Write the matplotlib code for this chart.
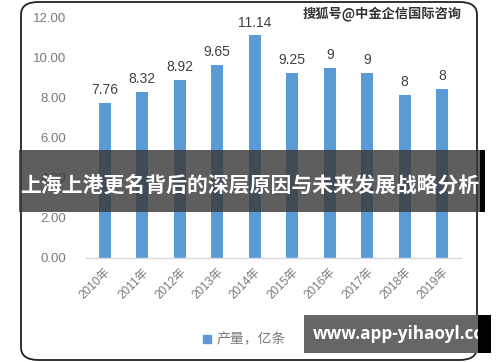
import matplotlib
matplotlib.use("Agg")
import matplotlib.pyplot as plt
from matplotlib.patches import FancyBboxPatch, Rectangle

plt.rcParams['font.family'] = ['Liberation Sans', 'Noto Sans CJK SC', 'DejaVu Sans']

years = ["2010年", "2011年", "2012年", "2013年", "2014年", "2015年", "2016年", "2017年", "2018年", "2019年"]
heights = [7.76, 8.32, 8.92, 9.65, 11.14, 9.25, 9.5, 9.25, 8.15, 8.45]
labels = ["7.76", "8.32", "8.92", "9.65", "11.14", "9.25", "9", "9", "8", "8"]
yticks = [0, 2, 4, 6, 8, 10, 12]
legend_label = "产量，亿条"
banner = "上海上港更名背后的深层原因与未来发展战略分析"
watermark = "搜狐号@中金企信国际咨询"
site = "www.app-yihaoyl.cc"

W, H = 500, 362
fig = plt.figure(figsize=(W / 100, H / 100), dpi=100)
fig.patch.set_facecolor("white")

def fx(px):
    return px / W

def fy(py):
    return 1 - py / H

# rounded frame
frame = FancyBboxPatch((fx(21), fy(360)), fx(477) - fx(21), fy(2) - fy(360),
                       boxstyle="round,pad=0,rounding_size=0.035",
                       transform=fig.transFigure, fill=False, edgecolor="#222222",
                       linewidth=1.3, zorder=0)
fig.patches.append(frame)

ax = fig.add_axes([fx(86), fy(258), fx(461) - fx(86), fy(18) - fy(258)])
x = list(range(len(years)))
bars = ax.bar(x, heights, width=0.32, color="#5b9bd5", zorder=2)
ax.set_xlim(-0.5, len(years) - 0.5)
ax.set_ylim(0, 12)
ax.set_yticks(yticks)
ax.set_yticklabels([f"{v:.2f}" for v in yticks], fontsize=9.5, color="#7a7a7a")
ax.set_xticks(x)
ax.set_xticklabels(years, rotation=45, ha="right", va="top", rotation_mode="anchor",
                   fontsize=8.5, color="#7a7a7a")
ax.tick_params(length=0, pad=14, axis="y")
ax.tick_params(length=0, pad=6, axis="x")
for s in ["top", "right", "left"]:
    ax.spines[s].set_visible(False)
ax.spines["bottom"].set_color("#d9d9d9")
ax.spines["bottom"].set_linewidth(1.0)
ax.patch.set_alpha(0)

for xi, h, lab in zip(x, heights, labels):
    ax.annotate(lab, (xi, h), xytext=(0, 4), textcoords="offset points",
                ha="center", va="bottom", fontsize=10, color="#404040")

# legend
fig.patches.append(Rectangle((fx(203), fy(343)), fx(211) - fx(203), fy(335) - fy(343),
                             transform=fig.transFigure, color="#5b9bd5"))
fig.text(fx(217), fy(339), legend_label, fontsize=10, color="#7a7a7a",
         ha="left", va="center")

# watermark
fig.text(fx(462), fy(14), watermark, fontsize=9.5, color="#333333", fontweight="bold",
         ha="right", va="center", family=['Noto Sans CJK SC', 'DejaVu Sans'])

# banner
fig.patches.append(Rectangle((fx(19), fy(212)), fx(483) - fx(19), fy(150) - fy(212),
                             transform=fig.transFigure, facecolor="#3a3a3a", alpha=0.82,
                             edgecolor="none", zorder=5))
fig.patches.append(Rectangle((fx(480), fy(212)), fx(485) - fx(480), fy(150) - fy(212),
                             transform=fig.transFigure, facecolor="#000000",
                             edgecolor="none", zorder=5))
fig.text(fx(250), fy(185), banner, fontsize=15, color="white", fontweight="bold",
         ha="center", va="center", zorder=6, family=['Noto Sans CJK SC', 'DejaVu Sans'])

# bottom-right site box
gray_box = Rectangle((fx(304), fy(353)), fx(478) - fx(304), fy(315) - fy(353),
                     transform=fig.transFigure, facecolor="#666666", edgecolor="none", zorder=5)
fig.patches.append(gray_box)
fig.patches.append(Rectangle((fx(478), fy(353)), fx(491) - fx(478), fy(315) - fy(353),
                             transform=fig.transFigure, facecolor="#000000",
                             edgecolor="none", zorder=5))
t = fig.text(fx(313), fy(334), site, fontsize=12.3, color="white", fontweight="bold",
             ha="left", va="center", zorder=6, family=['Open Sans', 'DejaVu Sans'])
t.set_clip_path(gray_box)

fig.savefig("out.png", dpi=100)
